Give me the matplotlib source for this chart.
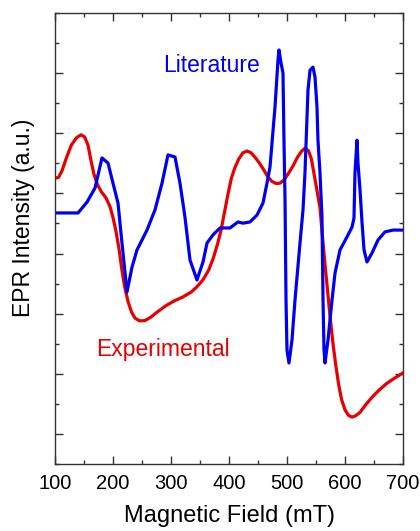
import matplotlib
matplotlib.use("Agg")
import matplotlib.pyplot as plt
from matplotlib.ticker import MultipleLocator, NullFormatter

plt.rcParams['font.family'] = ['Liberation Sans', 'DejaVu Sans']

# Experimental spectrum
exp_field = [100, 106, 112, 120, 128, 137, 145, 151, 157, 162,
             167, 173, 180, 188, 195, 200, 205, 210, 215, 220,
             226, 232, 238, 246, 255, 265, 276, 290, 305, 320,
             335, 345, 355, 365, 373, 380, 386, 392, 398, 404,
             410, 417, 424, 431, 438, 445, 452, 460, 467, 474,
             481, 488, 495, 502, 510, 518, 525, 531, 537, 542,
             548, 553, 557, 561, 565, 569, 574, 579, 584, 589,
             594, 600, 606, 612, 618, 626, 636, 648, 660, 672,
             685, 700]
exp_int = [9.51, 9.53, 9.75, 10.2, 10.6, 10.85, 10.95, 10.88, 10.6, 10.1,
           9.65, 9.3, 9.05, 8.85, 8.55, 8.2, 7.75, 7.2, 6.5, 5.9,
           5.4, 5.05, 4.85, 4.76, 4.77, 4.88, 5.05, 5.25, 5.42, 5.55,
           5.72, 5.9, 6.12, 6.45, 6.85, 7.3, 7.75, 8.35, 8.95, 9.5,
           9.85, 10.15, 10.35, 10.41, 10.35, 10.2, 10.02, 9.78, 9.55, 9.4,
           9.33, 9.34, 9.45, 9.65, 9.9, 10.2, 10.4, 10.5, 10.42, 10.15,
           9.5, 8.95, 8.5, 7.6, 6.75, 5.95, 4.95, 4.05, 3.3, 2.65,
           2.15, 1.8, 1.62, 1.56, 1.6, 1.72, 1.98, 2.25, 2.48, 2.68,
           2.85, 3.03]

# Literature spectrum
lit_field = [100, 139.7, 155.2, 169.0, 181.0, 191.4, 200, 208.6, 215.5, 224.1,
             232.8, 241.4, 258.6, 272.4, 284.5, 294.8, 306.9, 315.5, 324.1, 332.8,
             344.8, 355.2, 362.1, 372.4, 384.5, 401.7, 415.5, 424.1, 436.2, 448.3,
             458.6, 465.5, 470.7, 479.3, 484.5, 486.2, 489.7, 493.1, 494.8, 496.6,
             498.3, 500, 503.4, 508.6, 513.8, 522.4, 527.6, 531.0, 536.2, 539.7,
             544.8, 548.3, 551.7, 553.4, 556.9, 560.3, 562.1, 563.8, 565.5, 570.7,
             577.6, 582.8, 591.4, 603.4, 612.1, 615.5, 617.2, 620.7, 622.4, 625.9,
             629.3, 632.8, 637.9, 646.6, 656.9, 669.0, 682.8, 700]
lit_int = [8.35, 8.35, 8.71, 9.18, 10.18, 10.01, 9.34, 8.68, 7.35, 5.72,
           6.55, 7.12, 7.78, 8.45, 9.34, 10.28, 10.21, 9.34, 8.21, 6.78,
           6.12, 6.72, 7.35, 7.62, 7.85, 7.85, 8.05, 8.01, 8.05, 8.28,
           8.68, 9.34, 9.88, 11.87, 13.44, 13.77, 13.34, 13.00, 10.77, 8.78,
           5.45, 3.79, 3.36, 4.12, 5.45, 7.35, 8.45, 9.68, 12.44, 13.10,
           13.20, 12.87, 11.87, 10.77, 9.68, 8.21, 5.45, 3.79, 3.36, 4.12,
           5.45, 6.35, 7.12, 7.55, 7.88, 8.18, 9.68, 10.77, 10.01, 9.11,
           8.05, 7.12, 6.72, 7.02, 7.45, 7.72, 7.78, 7.78]

fig = plt.figure(figsize=(4.2, 5.31), dpi=100)
ax = fig.add_axes([55 / 420, 67 / 531, 348 / 420, 451 / 531])

ax.plot(exp_field, exp_int, color='#e60000', lw=2.3, solid_joinstyle='round')
ax.plot(lit_field, lit_int, color='#0000ee', lw=2.3, solid_joinstyle='round')

ax.text(370, 13.27, "Literature", color='#0000ee', fontsize=16.5, ha='center', va='center')
ax.text(286, 3.82, "Experimental", color='#e60000', fontsize=16.5, ha='center', va='center')

ax.set_xlim(100, 700)
ax.set_ylim(0, 15)
ax.xaxis.set_major_locator(MultipleLocator(100))
ax.xaxis.set_minor_locator(MultipleLocator(50))
ax.set_yticks([1, 3, 5, 7, 9, 11, 13])
ax.yaxis.set_minor_locator(MultipleLocator(1))
ax.yaxis.set_major_formatter(NullFormatter())

ax.tick_params(which='both', direction='in', top=True, right=True, color='#333333', width=1)
ax.tick_params(which='major', length=5.5, labelsize=14.5, pad=7)
ax.tick_params(which='minor', length=3)
for s in ax.spines.values():
    s.set_color('#333333')
    s.set_linewidth(1)

ax.set_xlabel("Magnetic Field (mT)", fontsize=17, labelpad=9)
ax.set_ylabel("EPR Intensity (a.u.)", fontsize=16.5)
ax.yaxis.set_label_coords(-0.058, 0.545)

fig.savefig("out.png", dpi=100)
